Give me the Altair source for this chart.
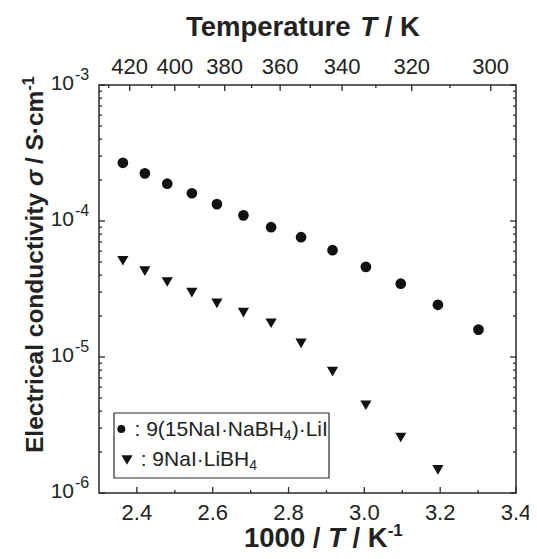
import altair as alt
import pandas as pd

# ---------------- data ----------------
inv_T_a = [2.363, 2.421, 2.480, 2.545, 2.611, 2.681, 2.754, 2.833, 2.916, 3.004, 3.096, 3.194, 3.301]
sigma_a = [2.68e-4, 2.24e-4, 1.88e-4, 1.60e-4, 1.33e-4, 1.10e-4, 9.0e-5, 7.6e-5, 6.1e-5,
           4.6e-5, 3.46e-5, 2.42e-5, 1.59e-5]
inv_T_b = [2.363, 2.421, 2.480, 2.545, 2.611, 2.681, 2.754, 2.833, 2.916, 3.004, 3.096, 3.194]
sigma_b = [5.1e-5, 4.28e-5, 3.56e-5, 2.97e-5, 2.48e-5, 2.12e-5, 1.77e-5, 1.26e-5, 7.8e-6,
           4.42e-6, 2.56e-6, 1.48e-6]

x_major = [2.4, 2.6, 2.8, 3.0, 3.2, 3.4]
x_minor = [2.5, 2.7, 2.9, 3.1, 3.3]
temp_major = [420, 400, 380, 360, 340, 320, 300]
temp_minor = [430, 410, 390, 370, 350, 330, 310]
y_decades = [1e-6, 1e-5, 1e-4, 1e-3]
y_exponents = ["-6", "-5", "-4", "-3"]
y_minor_mult = [2, 3, 4, 5, 6, 7, 8, 9]

# ---------------- layout / style ----------------
W, H = 417, 408
FONT = "Liberation Sans"
TXT = "#222222"
INK = "#111111"
FRAME = "#2a2a2a"

XS = alt.Scale(domain=[2.3, 3.4], nice=False, zero=False)
YS = alt.Scale(type="log", domain=[1e-6, 1e-3], nice=False)


def X(f):
    return alt.X(f"{f}:Q", scale=XS, axis=None)


def Y(f):
    return alt.Y(f"{f}:Q", scale=YS, axis=None)


DUMMY = pd.DataFrame({"k": [0]})

REG = {" ": 278, ":": 278, "(": 333, ")": 333, "·": 333, "N": 722, "a": 556, "I": 278,
       "B": 667, "H": 722, "L": 556, "i": 222, "-": 333}
BOLD = {" ": 278, "/": 278, "T": 611, "K": 722, "E": 667, "S": 667, "l": 278, "e": 556,
        "c": 556, "t": 333, "r": 389, "i": 278, "a": 556, "o": 611, "n": 611, "d": 611,
        "u": 611, "v": 556, "y": 556, "m": 889, "p": 611, "·": 333, "σ": 620, "-": 333}


def tw(s, size, bold):
    t = BOLD if bold else REG
    return sum(t.get(c, 556) for c in s) * size / 1000.0


def runs_to_layers(runs, x0, y0, vertical=False):
    out = []
    pos = 0.0
    for text, size, bold, italic, shift in runs:
        stripped = text.lstrip(" ")
        lead = tw(text[: len(text) - len(stripped)], size, bold)
        start = pos + lead
        if vertical:
            x, y, ang = x0 - shift, y0 - start, 270
        else:
            x, y, ang = x0 + start, y0 - shift, 0
        out.append(
            alt.Chart(DUMMY)
            .mark_text(align="left", baseline="alphabetic", font=FONT, fontSize=size,
                       fontWeight="bold" if bold else "normal",
                       fontStyle="italic" if italic else "normal",
                       angle=ang, color=TXT)
            .encode(x=alt.value(x), y=alt.value(y), text=alt.value(stripped.rstrip()))
        )
        pos += tw(text, size, bold)
    return out


df_a = pd.DataFrame({"x": inv_T_a, "s": sigma_a})
df_b = pd.DataFrame({"x": inv_T_b, "s": sigma_b})
df_xmaj = pd.DataFrame({"x": x_major})
df_xmin = pd.DataFrame({"x": x_minor})
df_tmaj = pd.DataFrame({"T": temp_major})
df_tmin = pd.DataFrame({"T": temp_minor})
df_ymaj = pd.DataFrame({"y": y_decades, "e": y_exponents})
df_ymin = pd.DataFrame({"y": [m * d for d in y_decades[:-1] for m in y_minor_mult]})

layers = []

# data points
layers.append(alt.Chart(df_a).mark_point(shape="circle", filled=True, size=115, color=INK, opacity=1)
              .encode(x=X("x"), y=Y("s")))
layers.append(alt.Chart(df_b).mark_point(shape="triangle-down", filled=True, size=125, color=INK, opacity=1)
              .encode(x=X("x"), y=Y("s")))

# ticks (inward)
RULE = dict(color=FRAME, strokeWidth=1.3)
layers.append(alt.Chart(df_xmaj).mark_rule(**RULE).encode(x=X("x"), y=alt.value(H), y2=alt.value(H - 6)))
layers.append(alt.Chart(df_xmin).mark_rule(**RULE).encode(x=X("x"), y=alt.value(H), y2=alt.value(H - 3)))
layers.append(alt.Chart(df_tmaj).transform_calculate(x="1000 / datum.T").mark_rule(**RULE)
              .encode(x=X("x"), y=alt.value(0), y2=alt.value(6)))
layers.append(alt.Chart(df_tmin).transform_calculate(x="1000 / datum.T").mark_rule(**RULE)
              .encode(x=X("x"), y=alt.value(0), y2=alt.value(3)))
layers.append(alt.Chart(df_ymaj).mark_rule(**RULE).encode(y=Y("y"), x=alt.value(0), x2=alt.value(6)))
layers.append(alt.Chart(df_ymin).mark_rule(**RULE).encode(y=Y("y"), x=alt.value(0), x2=alt.value(3)))
layers.append(alt.Chart(df_ymaj).mark_rule(**RULE).encode(y=Y("y"), x=alt.value(W), x2=alt.value(W - 6)))
layers.append(alt.Chart(df_ymin).mark_rule(**RULE).encode(y=Y("y"), x=alt.value(W), x2=alt.value(W - 3)))

# tick labels
layers.append(alt.Chart(df_xmaj).mark_text(align="center", baseline="alphabetic", font=FONT, fontSize=22, color=TXT)
              .encode(x=X("x"), y=alt.value(435), text=alt.Text("x:Q", format=".1f")))
layers.append(alt.Chart(df_tmaj).transform_calculate(x="1000 / datum.T")
              .mark_text(align="center", baseline="alphabetic", font=FONT, fontSize=22, color=TXT)
              .encode(x=X("x"), y=alt.value(-11), text=alt.Text("T:Q")))
layers.append(alt.Chart(df_ymaj).mark_text(align="right", baseline="alphabetic", dy=5, font=FONT, fontSize=21, color=TXT)
              .encode(x=alt.value(-25), y=Y("y"), text=alt.value("10")))
layers.append(alt.Chart(df_ymaj).mark_text(align="left", baseline="alphabetic", dy=-5, font=FONT, fontSize=16, color=TXT)
              .encode(x=alt.value(-24), y=Y("y"), text=alt.Text("e:N")))

# axis titles
layers += runs_to_layers([("Temperature ", 27.5, True, False, 0),
                          ("T", 27.5, True, True, 0),
                          (" / K", 27.5, True, False, 0)], 87, -49)
layers += runs_to_layers([("1000 / ", 27.5, True, False, 0),
                          ("T", 27.5, True, True, 0),
                          (" / K", 27.5, True, False, 0),
                          ("-1", 17, True, False, 11)], 145, 462)
layers += runs_to_layers([("Electrical conductivity ", 24.5, True, False, 0),
                          ("σ", 24.5, True, True, 0),
                          (" / S·cm", 24.5, True, False, 0),
                          ("-1", 16, True, False, 9)], -56, 368, vertical=True)

# legend
layers.append(alt.Chart(DUMMY).mark_rect(fill="white", stroke=FRAME, strokeWidth=1.2)
              .encode(x=alt.value(15), x2=alt.value(230), y=alt.value(328), y2=alt.value(393)))
layers.append(alt.Chart(DUMMY).mark_point(shape="circle", filled=True, size=64, color=INK, opacity=1)
              .encode(x=alt.value(22.3), y=alt.value(344)))
layers.append(alt.Chart(DUMMY).mark_point(shape="triangle-down", filled=True, size=125, color=INK, opacity=1)
              .encode(x=alt.value(28), y=alt.value(375)))
layers += runs_to_layers([(": 9(15NaI·NaBH", 21, False, False, 0),
                          ("4", 14, False, False, -4),
                          (")·LiI", 21, False, False, 0)], 35.5, 350.7)
layers += runs_to_layers([(": 9NaI·LiBH", 21, False, False, 0),
                          ("4", 14, False, False, -4)], 41.7, 381)

chart = (
    alt.layer(*layers)
    .properties(width=W, height=H,
                padding={"left": 91, "top": 77, "right": 13, "bottom": 57},
                autosize=alt.AutoSizeParams(type="none"))
    .configure_view(stroke=FRAME, strokeWidth=1.5)
)

chart.save("out.html", embed_options={"renderer": "svg", "actions": False})
